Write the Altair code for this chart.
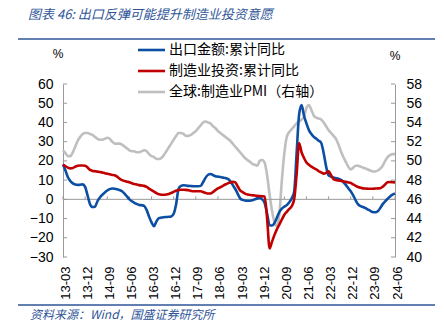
import altair as alt
import pandas as pd

# ---------------- data ----------------
months = pd.date_range("2013-03-01", "2024-06-01", freq="MS").strftime("%y-%m").tolist()
tick_labels = ["13-03", "13-12", "14-09", "15-06", "16-03", "16-12", "17-09", "18-06",
               "19-03", "19-12", "20-09", "21-06", "22-03", "22-12", "23-09", "24-06"]
left_ticks = [-30, -20, -10, 0, 10, 20, 30, 40, 50, 60]
right_ticks = [40, 42, 44, 46, 48, 50, 52, 54, 56, 58]

export_yoy = [
    18.1, 15.0, 11.5, 9.5, 8.3, 7.7, 7.5, 7.6, 7.8, 6.5,
    2.0, -2.5, -4.0, -3.8, -1.0, 1.0, 2.4, 3.6, 4.6, 5.3,
    5.6, 5.5, 5.2, 4.8, 4.2, 3.0, 1.5, 0.0, -1.0, -1.8,
    -2.4, -2.9, -3.1, -3.4, -5.5, -9.0, -12.0, -14.0, -11.5, -9.8,
    -9.5, -9.3, -9.2, -9.1, -8.9, -7.5, -2.5, 5.5, 7.0, 7.3,
    7.2, 7.0, 6.9, 6.8, 6.8, 6.8, 7.0, 9.0, 11.3, 12.8,
    13.2, 12.6, 12.0, 11.8, 11.6, 11.3, 11.1, 10.6, 9.5, 7.5,
    5.5, 3.0, 0.5, -0.3, -0.6, -0.7, -0.7, -0.5, 0.0, 0.5,
    0.7, 0.0, -2.0, -7.5, -13.5, -13.6, -12.3, -9.5, -6.5, -4.8,
    -3.8, -3.0, -1.5, 0.5, 4.0, 24.0, 44.0, 49.0, 43.5, 39.5,
    36.0, 34.0, 32.5, 31.5, 30.5, 29.3, 24.0, 17.0, 12.5, 11.8,
    11.3, 11.0, 10.7, 10.2, 9.0, 7.5, 5.8, 4.2, 2.0, -0.5,
    -2.6, -3.5, -4.0, -4.6, -5.3, -6.0, -6.6, -6.7, -6.2, -4.5,
    -2.5, -1.0, 0.3, 1.5, 2.4, 3.0,
]
mfg_inv_yoy = [
    18.1, 17.2, 16.5, 16.1, 16.3, 17.0, 17.5, 17.6, 17.6, 17.5,
    16.6, 15.3, 14.8, 14.6, 14.4, 14.2, 14.0, 13.6, 13.3, 13.0,
    12.7, 12.5, 11.8, 10.8, 10.0, 9.6, 9.2, 8.9, 8.4, 8.0,
    7.7, 7.4, 7.2, 7.0, 6.5, 5.6, 4.8, 4.0, 3.2, 2.6,
    2.4, 2.4, 2.5, 2.8, 3.3, 3.9, 4.5, 4.9, 5.0, 5.0,
    4.9, 4.7, 4.4, 4.2, 4.2, 4.2, 4.2, 3.8, 3.3, 3.0,
    3.0, 3.8, 4.8, 5.7, 6.3, 7.0, 7.7, 8.3, 8.7, 9.1,
    8.9, 6.8, 4.7, 3.8, 3.0, 2.5, 2.3, 2.1, 2.0, 1.8,
    1.7, 1.6, 1.5, -10.0, -25.5, -22.0, -18.5, -15.5, -13.0, -10.5,
    -8.0, -6.5, -5.0, -3.6, 0.0, 13.0, 29.3, 24.5, 21.5, 19.2,
    18.0, 17.0, 16.2, 15.6, 14.6, 14.0, 13.4, 13.8, 14.6, 12.5,
    10.5, 10.0, 9.8, 9.6, 9.4, 9.1, 8.8, 8.5, 7.8, 7.0,
    6.4, 6.0, 5.7, 5.6, 5.5, 5.5, 5.5, 5.6, 5.7, 5.8,
    6.5, 7.8, 8.9, 9.0, 8.9, 8.8,
]
global_pmi = [
    51.1, 50.8, 50.5, 50.5, 50.9, 51.5, 52.1, 52.5, 52.8, 52.9,
    52.9, 52.8, 52.7, 52.5, 52.3, 52.2, 52.2, 52.3, 52.4, 52.3,
    52.0, 51.8, 51.8, 51.8, 51.7, 51.5, 51.3, 51.1, 51.0, 51.0,
    50.9, 50.9, 51.0, 51.1, 51.0, 50.7, 50.5, 50.4, 50.2, 50.2,
    50.3, 50.6, 51.0, 51.4, 51.8, 52.2, 52.6, 52.9, 52.9, 52.8,
    52.6, 52.6, 52.7, 52.9, 53.1, 53.4, 53.7, 54.0, 54.1, 54.0,
    53.9, 53.6, 53.4, 53.1, 52.9, 52.7, 52.5, 52.3, 52.1, 51.8,
    51.5, 51.2, 50.9, 50.6, 50.3, 50.1, 49.9, 49.7, 49.6, 49.5,
    50.0, 50.1, 49.8, 48.5, 46.5, 44.8, 43.6, 43.2, 44.5, 48.0,
    50.8, 52.5, 53.0, 53.3, 53.6, 53.9, 54.1, 54.3, 54.6, 55.5,
    55.8, 55.3, 54.7, 54.5, 54.4, 54.3, 54.0, 53.6, 53.2, 52.9,
    52.6, 52.3, 51.7, 51.0, 50.4, 49.9, 49.4, 49.1, 49.3, 49.5,
    49.5, 49.4, 49.3, 49.2, 49.1, 49.0, 48.9, 48.9, 49.0, 49.2,
    49.5, 50.0, 50.4, 50.6, 50.7, 50.7,
]

series_names = ["出口金额:累计同比", "制造业投资:累计同比", "全球:制造业PMI（右轴）"]
series_colors = ["#0B4EA2", "#C00000", "#BFBFBF"]
title_text = "图表 46:  出口反弹可能提升制造业投资意愿"
footer_text = "资料来源：Wind，国盛证券研究所"
unit_text = "%"

# ---------------- layout ----------------
W, H = 332, 173
AX = "#999999"
NUM_FONT = "Liberation Sans"
CJK_FONT = "Noto Sans CJK SC"
BLUE_TXT = "#2F5597"

n = len(months)
df_left = pd.DataFrame({
    "month": months * 2,
    "value": export_yoy + mfg_inv_yoy,
    "series": [series_names[0]] * n + [series_names[1]] * n,
})
df_pmi = pd.DataFrame({"month": months, "value": global_pmi})
df_xt = pd.DataFrame({"month": tick_labels, "y0": [0] * len(tick_labels)})
df_lt = pd.DataFrame({"value": left_ticks})
df_rt = pd.DataFrame({"value": right_ticks})
df_zero = pd.DataFrame({"value": [0]})
one = alt.Data(values=[{}])

x_enc = alt.X(
    "month:O",
    sort=months,
    scale=alt.Scale(type="point", padding=0),
    axis=alt.Axis(values=tick_labels, labelAngle=270, labelAlign="right",
                  labelBaseline="middle", labelPadding=9, labelOffset=2,
                  ticks=False, domain=False, labelFont=NUM_FONT,
                  labelFontSize=13, labelColor="#000000", title=None,
                  grid=False, labelOverlap=False),
)

yl_scale = alt.Scale(domain=[-30, 60], nice=False, zero=False)
yl_axis = alt.Axis(values=left_ticks, orient="left", ticks=False,
                   domainColor=AX, domainWidth=1, labelPadding=10,
                   labelFont=NUM_FONT, labelFontSize=14,
                   labelColor="#000000", grid=False, title=None,
                   labelOverlap=False, labelBound=False)
yl_enc = alt.Y("value:Q", scale=yl_scale, axis=yl_axis)
yr_scale = alt.Scale(domain=[40, 58], nice=False, zero=False)
yr_enc = alt.Y("value:Q", scale=yr_scale,
               axis=alt.Axis(values=right_ticks, orient="right", ticks=False,
                             domainColor=AX, domainWidth=1, labelPadding=11,
                             labelFont=NUM_FONT, labelFontSize=14,
                             labelColor="#000000", grid=False, title=None,
                             labelOverlap=False, labelBound=False))

# left-axis group
zero_rule = alt.Chart(df_zero).mark_rule(color=AX, strokeWidth=1).encode(
    y=yl_enc, x=alt.value(0), x2=alt.value(W))
x_ticks = alt.Chart(df_xt).mark_rule(color=AX, strokeWidth=1).encode(
    x=x_enc, y=alt.Y("y0:Q", scale=yl_scale, axis=yl_axis), y2=alt.value(H * 60 / 90 - 3))
l_ticks = alt.Chart(df_lt).mark_rule(color=AX, strokeWidth=1).encode(
    y=yl_enc, x=alt.value(0), x2=alt.value(4))
left_lines = alt.Chart(df_left).mark_line(strokeWidth=2.6, interpolate="monotone").encode(
    x=x_enc, y=yl_enc,
    color=alt.Color("series:N", scale=alt.Scale(domain=series_names[:2], range=series_colors[:2]), legend=None),
    detail="series:N",
)
left_group = alt.layer(l_ticks, zero_rule, x_ticks, left_lines)

# right-axis group
r_ticks = alt.Chart(df_rt).mark_rule(color=AX, strokeWidth=1).encode(
    y=yr_enc, x=alt.value(W - 4), x2=alt.value(W))
pmi_line = alt.Chart(df_pmi).mark_line(strokeWidth=2.6, interpolate="monotone", color=series_colors[2]).encode(
    x=x_enc, y=yr_enc)
right_group = alt.layer(r_ticks, pmi_line)

# decorations / manual legend (pixel placed)
deco = []
deco.append(alt.Chart(one).mark_text(text=title_text, align="left", baseline="middle",
                                     font=CJK_FONT, fontSize=13, fontStyle="italic",
                                     color=BLUE_TXT).encode(x=alt.value(-35), y=alt.value(-69)))
deco.append(alt.Chart(one).mark_rule(color=BLUE_TXT, strokeWidth=1.5).encode(
    x=alt.value(-45), x2=alt.value(372), y=alt.value(-45)))
deco.append(alt.Chart(one).mark_rule(color=BLUE_TXT, strokeWidth=1.5).encode(
    x=alt.value(-45), x2=alt.value(372), y=alt.value(221)))
deco.append(alt.Chart(one).mark_text(text=footer_text, align="left", baseline="middle",
                                     font=CJK_FONT, fontSize=12, fontStyle="italic",
                                     color=BLUE_TXT).encode(x=alt.value(-33), y=alt.value(231)))
deco.append(alt.Chart(one).mark_text(text=unit_text, align="center", baseline="middle",
                                     font=NUM_FONT, fontSize=12, color="#000000").encode(
    x=alt.value(-5), y=alt.value(-30)))
deco.append(alt.Chart(one).mark_text(text=unit_text, align="center", baseline="middle",
                                     font=NUM_FONT, fontSize=12, color="#000000").encode(
    x=alt.value(W), y=alt.value(-28)))
for i, (name, col) in enumerate(zip(series_names, series_colors)):
    yy = -34 + 21 * i
    deco.append(alt.Chart(one).mark_rule(color=col, strokeWidth=2.6).encode(
        x=alt.value(75), x2=alt.value(102), y=alt.value(yy)))
    deco.append(alt.Chart(one).mark_text(text=name, align="left", baseline="middle",
                                         font=CJK_FONT, fontSize=14, color="#000000").encode(
        x=alt.value(106), y=alt.value(yy)))

chart = alt.layer(right_group, left_group, *deco).resolve_scale(y="independent").properties(
    width=W, height=H,
    padding={"left": 63, "top": 84, "right": 50, "bottom": 78},
    autosize=alt.AutoSizeParams(type="none"),
    background="white",
).configure_view(stroke=None).configure_axis(labelOverlap=False)

chart.save("out.html", embed_options={"renderer": "svg", "actions": False})
